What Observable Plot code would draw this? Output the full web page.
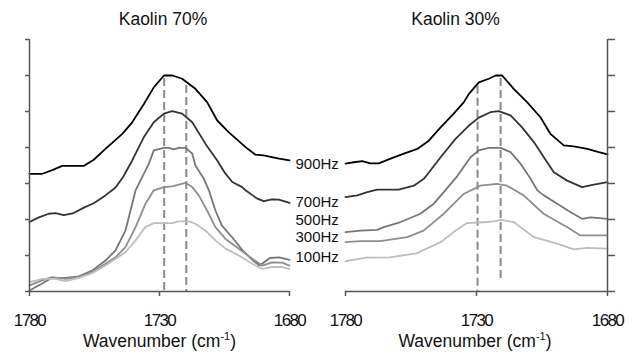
<!DOCTYPE html>
<html><head><meta charset="utf-8">
<script src="https://cdn.jsdelivr.net/npm/d3@7"></script>
<script src="https://cdn.jsdelivr.net/npm/@observablehq/plot@0.6"></script>
<style>
body{margin:0;background:#fff;}
#wrap{position:relative;width:634px;height:352px;overflow:hidden;}
#wrap svg{position:absolute;top:0;}
#wrap g[aria-label="x-axis tick label"] text{letter-spacing:-1.6px;}
</style></head><body><div id="wrap"></div>
<script>
// ---- data ----
const freqs = ["900Hz","700Hz","500Hz","300Hz","100Hz"];
const lineColors = ["#000000","#333333","#767676","#8e8e8e","#bdbdbd"];
const xTicks = [1780, 1730, 1680];
const yTicks = [0,1,2,3,4,5,6,7];
const titles = ["Kaolin 70%","Kaolin 30%"];
const xLabel = "Wavenumber (cm⁻¹)";
const labelY = [3.55, 2.48, 1.97, 1.51, 0.95];

// Kaolin 70% : [wavenumber, intensity]
const k70_900 = [[1780,3.27],[1775,3.27],[1771,3.38],[1767.4,3.49],[1759,3.49],[1755.3,3.66],[1750.8,3.96],[1744.3,4.38],[1740.5,4.70],[1736,5.21],[1732.2,5.67],[1728.3,6.0],[1725,6.0],[1721.3,5.91],[1716.2,5.63],[1711.7,5.26],[1707.8,4.75],[1703.3,4.42],[1696.9,4.01],[1693.1,3.80],[1690,3.78],[1684,3.69],[1680,3.64]];
const k70_700 = [[1780,1.93],[1776.4,2.06],[1772.6,2.16],[1770,2.18],[1766.8,2.12],[1763,2.18],[1759.1,2.33],[1755.3,2.45],[1750.8,2.67],[1747,2.88],[1744,3.18],[1740.5,3.64],[1736,4.29],[1732.2,4.70],[1728.3,4.94],[1725.1,5.01],[1721.3,4.94],[1717.4,4.70],[1712.3,4.10],[1707.8,3.64],[1705,3.31],[1702,3.04],[1698.2,2.90],[1696.9,2.81],[1692.4,2.58],[1689.9,2.51],[1686.7,2.56],[1684.1,2.55],[1680,2.46]];
const k70_500 = [[1780,0.03],[1775.1,0.22],[1771.3,0.38],[1766.2,0.38],[1761,0.42],[1755.9,0.58],[1750.8,0.86],[1746.9,1.14],[1743.1,1.69],[1739.2,2.81],[1735.4,3.36],[1734.1,3.55],[1732.2,3.92],[1728.3,3.99],[1726.4,3.99],[1724.5,3.95],[1722.6,3.99],[1720,3.99],[1717.4,3.83],[1716.2,3.50],[1713,3.14],[1711,2.81],[1708.5,2.25],[1706,1.83],[1702,1.50],[1698,1.14],[1694,0.86],[1691.5,0.72],[1687.5,0.93],[1684,0.95],[1680,0.88]];
const k70_300 = [[1780,0.17],[1775.1,0.31],[1771.3,0.40],[1766.2,0.35],[1761,0.40],[1755.9,0.54],[1750.8,0.77],[1746.9,0.95],[1743.1,1.23],[1739.2,1.79],[1735.4,2.44],[1732.2,2.81],[1728.3,2.90],[1725.1,2.92],[1720,3.02],[1717.4,2.90],[1714.9,2.67],[1711.7,2.25],[1708.5,1.79],[1704.6,1.46],[1699.5,1.19],[1694.3,0.91],[1690.5,0.72],[1686.7,0.81],[1682.8,0.80],[1680,0.72]];
const k70_100 = [[1780,0.26],[1775.1,0.35],[1770,0.35],[1766.2,0.29],[1761,0.38],[1755.9,0.51],[1750.8,0.72],[1746.9,0.91],[1743.1,1.09],[1739.2,1.42],[1735.4,1.79],[1732.2,1.90],[1728.3,1.90],[1725.1,1.90],[1722.6,1.95],[1718.7,1.95],[1716.2,1.88],[1712.3,1.69],[1708.5,1.42],[1704.6,1.19],[1699.5,1.00],[1694.3,0.77],[1690.5,0.63],[1686.7,0.68],[1682.8,0.68],[1680,0.63]];

// Kaolin 30%
const k30_900 = [[1780,3.55],[1776.8,3.59],[1773.6,3.62],[1770.5,3.56],[1767.3,3.56],[1762.8,3.69],[1757.7,3.83],[1752.6,3.96],[1748.2,4.19],[1743.7,4.56],[1738.7,4.94],[1734.8,5.26],[1732.9,5.49],[1729.1,5.81],[1725.3,5.91],[1722.7,6.0],[1720.2,6.0],[1715.8,5.63],[1710.7,5.26],[1705.6,4.84],[1701.8,4.38],[1696.7,4.06],[1692.9,4.03],[1687.7,3.96],[1683.3,3.87],[1680,3.81]];
const k30_700 = [[1780,2.62],[1775.5,2.67],[1771.7,2.76],[1767.9,2.83],[1759.7,2.83],[1753.9,2.94],[1750.1,3.13],[1747.6,3.36],[1743.7,3.73],[1738,4.24],[1732.9,4.61],[1729.1,4.83],[1724.7,4.98],[1721.5,5.01],[1717,4.89],[1712.6,4.56],[1708.1,4.15],[1704.3,3.73],[1700.5,3.31],[1695.4,3.08],[1689.7,2.90],[1685.2,2.97],[1680,3.04]];
const k30_500 = [[1780,1.65],[1774.3,1.69],[1767.9,1.71],[1765.4,1.79],[1759,1.93],[1751.4,2.16],[1746.3,2.44],[1742.5,2.76],[1737.4,3.20],[1732.3,3.73],[1729.1,3.92],[1725.3,3.99],[1720.8,3.99],[1717,3.87],[1713.2,3.55],[1709.4,3.14],[1706.8,2.81],[1704.3,2.67],[1699.2,2.44],[1694.1,2.20],[1689.7,2.02],[1686.5,2.06],[1680,2.02]];
const k30_300 = [[1780,1.37],[1774.3,1.40],[1766.7,1.40],[1756.5,1.51],[1750.2,1.69],[1742.5,2.16],[1734.9,2.71],[1728.5,2.94],[1722.2,2.99],[1718.4,2.94],[1712,2.67],[1704.4,2.16],[1695.5,1.79],[1690.5,1.56],[1680,1.56]];
const k30_100 = [[1780,0.84],[1772.1,0.94],[1763.2,0.95],[1753,1.06],[1743.7,1.37],[1738.7,1.65],[1733.6,1.90],[1726,1.93],[1723.4,1.95],[1720.8,1.99],[1715.8,1.93],[1708.1,1.51],[1699.2,1.33],[1692.9,1.17],[1687.7,1.21],[1680,1.19]];

// dashed peak markers: [wavenumber, top, bottom]
const k70_dash = [[1728.2,5.92,0],[1719.7,5.72,0]];
const k30_dash = [[1729.6,5.70,0],[1720.8,5.92,0.25]];

// ---- drawing ----
const FONT = "'Liberation Sans', Arial, Helvetica, sans-serif";
const toRows = (arrs) => arrs.flatMap((a, i) => a.map(([w, v]) => ({w, v, f: freqs[i]})));
const dashRows = (d) => d.map(([w, y1, y2]) => ({w, y1, y2}));

function panel({series, dash, title, width, mL, mR, yAnchor, yTickSize, titleDx, labelDx, withLabels}) {
  const marks = [
    Plot.ruleX(dash, {x: "w", y1: "y1", y2: "y2", stroke: "#8a8a8a", strokeWidth: 2, strokeDasharray: "8,4"}),
    Plot.line(series, {x: "w", y: "v", z: "f", stroke: "f", strokeWidth: 1.8, curve: "linear"}),
    Plot.ruleY([0], {stroke: "#555", strokeWidth: 1.5}),
    Plot.ruleX([yAnchor === "left" ? xTicks[0] : xTicks[xTicks.length - 1]], {stroke: "#555", strokeWidth: 1.5}),
    Plot.axisY({anchor: yAnchor, ticks: yTicks, tickSize: yTickSize, tickFormat: () => "", label: null, stroke: "#555", strokeWidth: 1.5}),
    Plot.axisX({ticks: xTicks, tickSize: 5, tickPadding: 17, tickFormat: d => String(d), label: null, fontSize: 17, fill: "#111", stroke: "#555", strokeWidth: 1.5}),
    Plot.text([title], {frameAnchor: "top", lineAnchor: "middle", dy: -19.8, dx: titleDx, fontSize: 17.5, fill: "#111"}),
    Plot.text([xLabel], {frameAnchor: "bottom", lineAnchor: "middle", dy: 50, dx: labelDx, fontSize: 17.5, fill: "#111"})
  ];
  if (withLabels) {
    marks.push(Plot.text(freqs.map((f, i) => ({f, y: labelY[i]})), {x: () => xTicks[xTicks.length - 1], y: "y", text: "f", dx: 6, textAnchor: "start", lineAnchor: "middle", fontSize: 15, fill: "#111"}));
  }
  return Plot.plot({
    width, height: 352,
    marginLeft: mL, marginRight: mR, marginTop: 39, marginBottom: 61,
    x: {domain: [xTicks[0], xTicks[xTicks.length - 1]]},
    y: {domain: [yTicks[0], yTicks[yTicks.length - 1]]},
    color: {domain: freqs, range: lineColors},
    style: {background: "transparent", fontFamily: FONT, overflow: "visible", color: "#111"},
    marks
  });
}

function superscript(svg) {
  for (const t of svg.querySelectorAll("text")) {
    if (t.textContent === xLabel) {
      t.textContent = "";
      const ns = "http://www.w3.org/2000/svg";
      const a = document.createElementNS(ns, "tspan"); a.textContent = "Wavenumber (cm";
      const b = document.createElementNS(ns, "tspan"); b.textContent = "-1"; b.setAttribute("font-size", "11"); b.setAttribute("dy", "-7");
      const c = document.createElementNS(ns, "tspan"); c.textContent = ")"; c.setAttribute("dy", "7");
      t.append(a, b, c);
    }
  }
}

const left = panel({series: toRows([k70_900, k70_700, k70_500, k70_300, k70_100]), dash: dashRows(k70_dash), title: titles[0], width: 634, mL: 29, mR: 345, yAnchor: "left", yTickSize: 4, titleDx: 3.5, labelDx: 0, withLabels: true});
const right = panel({series: toRows([k30_900, k30_700, k30_500, k30_300, k30_100]), dash: dashRows(k30_dash), title: titles[1], width: 317, mL: 28, mR: 27, yAnchor: "right", yTickSize: 7, titleDx: -21, labelDx: -1.5, withLabels: false});
superscript(left); superscript(right);
left.style.left = "0px";
right.style.left = "317px";
const wrap = document.getElementById("wrap");
wrap.append(left, right);
</script>
</body></html>
